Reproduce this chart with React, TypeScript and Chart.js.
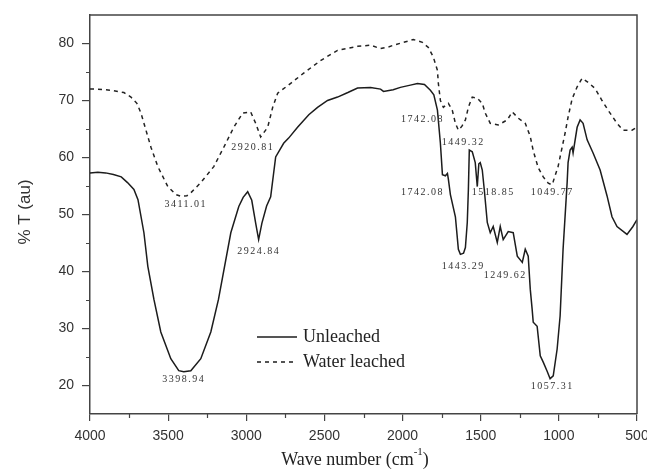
import React, { useEffect, useRef } from "react";
import { Chart, registerables } from "chart.js";

Chart.register(...registerables);

// ---- data ----
const seriesNames = ["Unleached", "Water leached"];

const xTickValues = [4000, 3500, 3000, 2500, 2000, 1500, 1000, 500];
const yTickValues = [20, 30, 40, 50, 60, 70, 80];
const xMinorTicks = [3750, 3250, 2750, 2250, 1750, 1250, 750];
const yMinorTicks = [25, 35, 45, 55, 65, 75];

const unleachedWavenumber = [
  4000, 3950, 3900, 3850, 3800, 3760, 3719, 3693, 3655, 3630, 3591, 3547, 3483, 3432, 3400, 3355,
  3291, 3227, 3178, 3099, 3048, 3020, 2991, 2965, 2940, 2921, 2900, 2870, 2844, 2812, 2761, 2729,
  2672, 2600, 2544, 2480, 2416, 2350, 2288, 2205, 2141, 2122, 2060, 2014, 1950, 1905, 1860, 1822,
  1800, 1777, 1758, 1745, 1726, 1713, 1707, 1694, 1662, 1643, 1630, 1610, 1598, 1586, 1579, 1573,
  1554, 1535, 1522, 1512, 1503, 1490, 1477, 1458, 1439, 1420, 1394, 1375, 1356, 1324, 1292, 1266,
  1234, 1215, 1196, 1183, 1171, 1164, 1139, 1119, 1100, 1075, 1056, 1036, 1011, 992, 973, 947,
  941, 928, 915, 909, 883, 864, 845, 819, 781, 736, 692, 660, 628, 564, 526, 500,
];
const unleachedT = [
  57.3, 57.4, 57.3, 57.0, 56.6, 55.6, 54.4, 52.6, 46.8, 40.9, 35.1, 29.4, 24.7, 22.6, 22.4, 22.6,
  24.7, 29.4, 35.1, 46.8, 51.4, 53.0, 54.0, 52.5, 48.5, 45.6, 48.5, 51.5, 53.1, 60.1, 62.5, 63.4,
  65.3, 67.5, 68.8, 70.0, 70.6, 71.4, 72.2, 72.3, 72.0, 71.6, 71.9, 72.3, 72.7, 73.0, 72.8, 71.8,
  71.0, 68.3, 62.5, 57.0, 56.8, 57.2, 56.2, 53.5, 49.6, 43.9, 43.0, 43.2, 44.2, 48.6, 54.3, 61.3,
  61.0, 59.1, 54.9, 58.9, 59.1, 57.8, 54.3, 48.6, 46.8, 47.9, 45.1, 47.9, 45.6, 47.0, 46.8, 42.7,
  41.6, 43.9, 42.7, 36.9, 33.4, 31.1, 30.4, 25.2, 24.1, 22.5, 21.2, 21.7, 26.4, 32.2, 43.9, 55.6,
  59.1, 61.3, 61.8, 60.8, 65.3, 66.6, 66.0, 63.1, 60.8, 57.8, 53.3, 49.6, 47.9, 46.5, 47.9, 49.1,
];

const waterWavenumber = [
  4000, 3962, 3866, 3783, 3738, 3700, 3674, 3642, 3610, 3566, 3502, 3451, 3419, 3380, 3355, 3291,
  3208, 3144, 3080, 3023, 2972, 2940, 2908, 2863, 2831, 2799, 2716, 2633, 2525, 2416, 2288, 2205,
  2141, 2090, 2058, 1994, 1931, 1873, 1835, 1803, 1777, 1771, 1758, 1739, 1707, 1682, 1662, 1643,
  1620, 1598, 1579, 1554, 1522, 1490, 1471, 1439, 1388, 1330, 1298, 1260, 1215, 1183, 1164, 1132,
  1100, 1068, 1045, 1036, 1005, 979, 960, 941, 915, 883, 851, 813, 768, 724, 685, 628, 589, 532, 500,
];
const waterT = [
  72.0, 72.0, 71.8, 71.4, 70.6, 69.5, 67.8, 64.8, 61.8, 58.4, 54.9, 53.5, 53.2, 53.3, 53.8, 55.6,
  58.4, 61.8, 65.3, 67.8, 68.0, 66.0, 63.6, 65.3, 68.8, 71.3, 73.0, 74.8, 77.0, 78.8, 79.5, 79.7,
  79.1, 79.4, 79.7, 80.2, 80.7, 80.2, 79.3, 77.6, 75.3, 73.0, 70.0, 68.8, 69.5, 68.3, 66.0, 64.8,
  65.5, 66.6, 68.8, 70.6, 70.4, 69.5, 67.8, 66.0, 65.7, 66.6, 68.0, 66.9, 66.0, 63.7, 61.2, 58.2,
  56.6, 55.5, 55.2, 55.8, 58.4, 61.8, 64.3, 67.1, 70.3, 72.4, 73.9, 73.2, 72.1, 70.0, 68.3, 66.0, 64.8, 64.8, 65.3,
];

const peakLabelText = [
  "3411.01", "2920.81", "2924.84", "3398.94", "1742.08", "1449.32",
  "1742.08", "1518.85", "1049.77", "1443.29", "1249.62", "1057.31",
];
const peakLabelWavenumber = [3387, 2959, 2921, 3400, 1873, 1611, 1873, 1420, 1043, 1611, 1343, 1043];
const peakLabelT = [51.7, 61.7, 43.5, 21.0, 66.7, 62.7, 53.8, 53.8, 53.8, 40.9, 39.3, 19.8];

const xTitleMain = "Wave number (cm";
const xTitleSup = "-1";
const xTitleEnd = ")";
const yTitle = "% T (au)";

// ---- drawing helpers ----
const AXIS = "#444";
const INK = "#1c1c1c";

const decorPlugin = {
  id: "decor",
  afterDraw(chart: any) {
    const { ctx, chartArea: a, scales } = chart;
    const xs = scales.x;
    const ys = scales.y;
    ctx.save();
    // frame top & right
    ctx.strokeStyle = AXIS;
    ctx.lineWidth = 1.5;
    ctx.beginPath();
    ctx.moveTo(a.left, a.top);
    ctx.lineTo(a.right, a.top);
    ctx.lineTo(a.right, a.bottom);
    ctx.stroke();
    // minor ticks
    ctx.lineWidth = 1.2;
    ctx.beginPath();
    xMinorTicks.forEach((v) => {
      const px = Math.round(xs.getPixelForValue(v)) + 0.5;
      ctx.moveTo(px, a.bottom);
      ctx.lineTo(px, a.bottom + 4);
    });
    yMinorTicks.forEach((v) => {
      const py = Math.round(ys.getPixelForValue(v)) + 0.5;
      ctx.moveTo(a.left, py);
      ctx.lineTo(a.left - 4, py);
    });
    ctx.stroke();

    // peak labels
    ctx.fillStyle = "#333";
    ctx.font = "10px 'Liberation Serif'";
    ctx.textAlign = "center";
    ctx.textBaseline = "middle";
    try { (ctx as any).letterSpacing = "1.5px"; } catch (e) {}
    peakLabelText.forEach((t, i) => {
      ctx.fillText(t, xs.getPixelForValue(peakLabelWavenumber[i]), ys.getPixelForValue(peakLabelT[i]));
    });
    try { (ctx as any).letterSpacing = "0px"; } catch (e) {}

    // legend
    const lx0 = 257, lx1 = 297, ly0 = 337, ly1 = 362;
    ctx.strokeStyle = INK;
    ctx.lineWidth = 1.5;
    ctx.beginPath();
    ctx.moveTo(lx0, ly0);
    ctx.lineTo(lx1, ly0);
    ctx.stroke();
    ctx.setLineDash([4, 4]);
    ctx.beginPath();
    ctx.moveTo(lx0, ly1);
    ctx.lineTo(lx1, ly1);
    ctx.stroke();
    ctx.setLineDash([]);
    ctx.fillStyle = "#222";
    ctx.font = "18px 'Liberation Serif'";
    ctx.textAlign = "left";
    ctx.textBaseline = "middle";
    ctx.fillText(seriesNames[0], 303, ly0);
    ctx.fillText(seriesNames[1], 303, ly1);

    // x title
    ctx.font = "18px 'Liberation Serif'";
    const wMain = ctx.measureText(xTitleMain).width;
    ctx.font = "11px 'Liberation Serif'";
    const wSup = ctx.measureText(xTitleSup).width;
    ctx.font = "18px 'Liberation Serif'";
    const wEnd = ctx.measureText(xTitleEnd).width;
    const total = wMain + wSup + wEnd;
    let tx = 355 - total / 2;
    const ty = 460;
    ctx.textBaseline = "alphabetic";
    ctx.fillText(xTitleMain, tx, ty + 5);
    tx += wMain;
    ctx.font = "11px 'Liberation Serif'";
    ctx.fillText(xTitleSup, tx, ty - 5);
    tx += wSup;
    ctx.font = "18px 'Liberation Serif'";
    ctx.fillText(xTitleEnd, tx, ty + 5);

    // y title
    ctx.save();
    ctx.translate(25, 212);
    ctx.rotate(-Math.PI / 2);
    ctx.font = "17px 'Liberation Sans'";
    ctx.textAlign = "center";
    ctx.textBaseline = "middle";
    ctx.fillStyle = "#333";
    ctx.fillText(yTitle, 0, 0);
    ctx.restore();

    ctx.restore();
  },
};

export default function App() {
  const ref = useRef<HTMLCanvasElement | null>(null);

  useEffect(() => {
    if (!ref.current) return;
    const chart = new Chart(ref.current, {
      type: "line",
      data: {
        datasets: [
          {
            label: seriesNames[0],
            data: unleachedWavenumber.map((x, i) => ({ x, y: unleachedT[i] })),
            borderColor: INK,
            borderWidth: 1.5,
            pointRadius: 0,
            tension: 0,
            fill: false,
          },
          {
            label: seriesNames[1],
            data: waterWavenumber.map((x, i) => ({ x, y: waterT[i] })),
            borderColor: "#222",
            borderWidth: 1.5,
            borderDash: [4, 4],
            pointRadius: 0,
            tension: 0,
            fill: false,
          },
        ],
      },
      options: {
        responsive: false,
        animation: false,
        layout: { padding: { top: 15, right: 10, left: 0, bottom: 0 } },
        plugins: { legend: { display: false }, tooltip: { enabled: false } },
        scales: {
          x: {
            type: "linear",
            reverse: true,
            min: 500,
            max: 4000,
            afterBuildTicks: (s: any) => {
              s.ticks = xTickValues.map((v) => ({ value: v }));
            },
            afterFit: (s: any) => {
              s.height = 60;
              s.paddingLeft = 0;
              s.paddingRight = 0;
            },
            grid: { drawOnChartArea: false, drawTicks: true, tickLength: 7, color: AXIS, lineWidth: 1.2 },
            border: { display: true, color: AXIS, width: 1.5 },
            ticks: {
              autoSkip: false,
              maxRotation: 0,
              padding: 7,
              color: "#333",
              font: { family: "'Liberation Sans'", size: 14 },
              callback: (v: any) => String(v),
            },
          },
          y: {
            type: "linear",
            min: 15,
            max: 85,
            afterBuildTicks: (s: any) => {
              s.ticks = yTickValues.map((v) => ({ value: v }));
            },
            afterFit: (s: any) => {
              s.width = 90;
              s.paddingTop = 0;
              s.paddingBottom = 0;
            },
            grid: { drawOnChartArea: false, drawTicks: true, tickLength: 8, color: AXIS, lineWidth: 1.2 },
            border: { display: true, color: AXIS, width: 1.5 },
            ticks: {
              padding: 8,
              color: "#333",
              font: { family: "'Liberation Sans'", size: 14 },
              callback: (v: any) => String(v),
            },
          },
        },
      },
      plugins: [decorPlugin],
    });
    return () => chart.destroy();
  }, []);

  return (
    <div style={{ position: "fixed", left: 0, top: 0, width: 647, height: 474, background: "#fff" }}>
      <canvas ref={ref} width={647} height={474} style={{ display: "block" }} />
    </div>
  );
}
